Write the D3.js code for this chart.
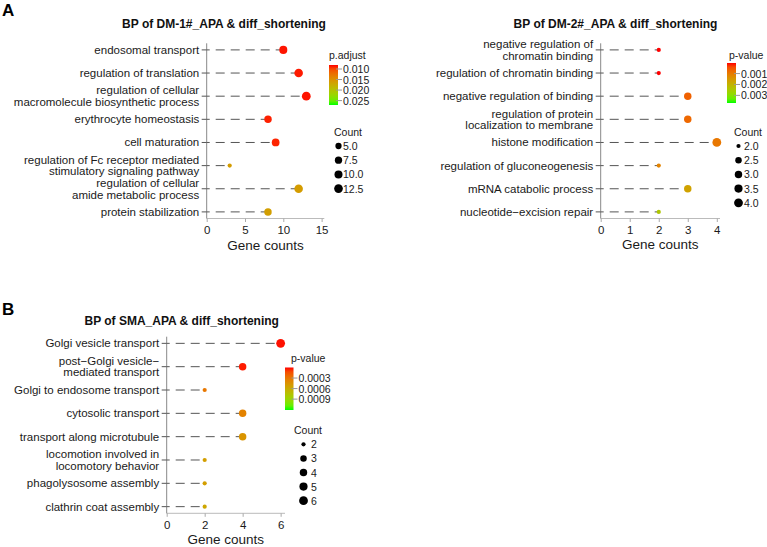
<!DOCTYPE html>
<html>
<head>
<meta charset="utf-8">
<script src="https://cdn.jsdelivr.net/npm/d3@7"></script>
<style>
  body { margin: 0; background: #fff; }
  svg text { font-family: 'Liberation Sans', Arial, Helvetica, sans-serif; fill: #1a1a1a; }
</style>
</head>
<body>
<div id="chart"></div>
<script>
// ---- DM-1# (p.adjust) ----
var dm1Terms = [
  "endosomal transport",
  "regulation of translation",
  "regulation of cellular\nmacromolecule biosynthetic process",
  "erythrocyte homeostasis",
  "cell maturation",
  "regulation of Fc receptor mediated\nstimulatory signaling pathway",
  "regulation of cellular\namide metabolic process",
  "protein stabilization"
];
var dm1Counts = [10, 12, 13, 8, 9, 3, 12, 8];
var dm1Padj = [0.0083, 0.0084, 0.0083, 0.0085, 0.0086, 0.0161, 0.0161, 0.0163];
var dm1XTicks = [0, 5, 10, 15];
var dm1ColorTicks = [0.010, 0.015, 0.020, 0.025];
var dm1SizeBreaks = [5.0, 7.5, 10.0, 12.5];

// ---- DM-2# (p-value) ----
var dm2Terms = [
  "negative regulation of\nchromatin binding",
  "regulation of chromatin binding",
  "negative regulation of binding",
  "regulation of protein\nlocalization to membrane",
  "histone modification",
  "regulation of gluconeogenesis",
  "mRNA catabolic process",
  "nucleotide\u2212excision repair"
];
var dm2Counts = [2, 2, 3, 3, 4, 2, 3, 2];
var dm2Pval = [0.00003, 0.00003, 0.00065, 0.00073, 0.00095, 0.00113, 0.00168, 0.00242];
var dm2XTicks = [0, 1, 2, 3, 4];
var dm2ColorTicks = [0.001, 0.002, 0.003];
var dm2SizeBreaks = [2.0, 2.5, 3.0, 3.5, 4.0];

// ---- SMA (p-value) ----
var smaTerms = [
  "Golgi vesicle transport",
  "post\u2212Golgi vesicle\u2212\nmediated transport",
  "Golgi to endosome transport",
  "cytosolic transport",
  "transport along microtubule",
  "locomotion involved in\nlocomotory behavior",
  "phagolysosome assembly",
  "clathrin coat assembly"
];
var smaCounts = [6, 4, 2, 4, 4, 2, 2, 2];
var smaPval = [0.00001, 0.00002, 0.00030, 0.00036, 0.00046, 0.00052, 0.00052, 0.00057];
var smaXTicks = [0, 2, 4, 6];
var smaColorTicks = [0.0003, 0.0006, 0.0009];
var smaSizeBreaks = [2, 3, 4, 5, 6];

var svg = d3.select("#chart").append("svg")
  .attr("width", 767)
  .attr("height", 547);

var defs = svg.append("defs");

// panel letters
svg.append("text").attr("x", 2).attr("y", 16).attr("font-size", "17px")
  .attr("font-weight", "bold").style("fill", "#000").text("A");
svg.append("text").attr("x", 2).attr("y", 315).attr("font-size", "17px")
  .attr("font-weight", "bold").style("fill", "#000").text("B");

function drawPanel(p) {
  var g = svg.append("g");
  var n = p.terms.length;

  var x = d3.scaleLinear().domain([0, p.xMax]).range([p.x0, p.x1]);
  var y = d3.scalePoint().domain(d3.range(n)).range([p.yTop, p.yBot]).padding(0.285);
  var color = d3.scaleLinear().domain(p.colorDomain)
    .range(["#ff0000", "#00ff00"]).interpolate(d3.interpolateLab).clamp(true);
  var cext = d3.extent(p.counts);
  var rad = function(v) {
    var t = Math.max(0, (v - cext[0]) / (cext[1] - cext[0]));
    return 2.1 + 2.3 * Math.sqrt(t);
  };

  // title
  g.append("text")
    .attr("x", p.titleX).attr("y", p.titleY)
    .attr("text-anchor", "middle")
    .attr("dominant-baseline", "central")
    .attr("font-size", "12px").attr("font-weight", "bold")
    .style("fill", "#111")
    .text(p.title);

  // x axis
  var xa = g.append("g").attr("transform", "translate(0," + p.yBot + ")")
    .call(d3.axisBottom(x).tickValues(p.xTicks).tickSize(3.5).tickPadding(4).tickFormat(d3.format("d")));
  xa.select(".domain").attr("stroke", "#bbb").attr("d", "M" + p.x0 + ",0H" + p.x1);
  xa.selectAll(".tick line").attr("stroke", "#aaa");
  xa.selectAll(".tick text").attr("font-size", "11.5px").style("fill", "#1a1a1a");

  g.append("text")
    .attr("x", (p.x0 + p.x1) / 2).attr("y", p.xTitleY)
    .attr("text-anchor", "middle").attr("dominant-baseline", "central")
    .attr("font-size", "13.5px")
    .text("Gene counts");

  // y axis line
  g.append("line")
    .attr("x1", p.x0).attr("x2", p.x0)
    .attr("y1", p.yTop).attr("y2", p.yBot)
    .attr("stroke", "#888");

  var rows = g.append("g").selectAll("g")
    .data(p.terms)
    .enter().append("g");

  // tick marks
  rows.append("line")
    .attr("x1", p.x0 - 5).attr("x2", p.x0)
    .attr("y1", function(d, i) { return y(i); })
    .attr("y2", function(d, i) { return y(i); })
    .attr("stroke", "#555");

  // labels (possibly two lines)
  rows.each(function(d, i) {
    var lines = d.split("\n");
    var t = d3.select(this).append("text")
      .attr("text-anchor", "end")
      .attr("font-size", "11.5px");
    lines.forEach(function(s, k) {
      t.append("tspan")
        .attr("x", p.x0 - 7.5)
        .attr("y", y(i) + (k - (lines.length - 1) / 2) * 11.6)
        .attr("dominant-baseline", "central")
        .text(s);
    });
  });

  // dashed segments
  rows.append("line")
    .attr("x1", p.x0)
    .attr("x2", function(d, i) { return x(p.counts[i]); })
    .attr("y1", function(d, i) { return y(i); })
    .attr("y2", function(d, i) { return y(i); })
    .attr("stroke", "#555")
    .attr("stroke-width", 1)
    .attr("stroke-dasharray", "9,6")
    .attr("stroke-dashoffset", 6);

  // dots
  rows.append("circle")
    .attr("cx", function(d, i) { return x(p.counts[i]); })
    .attr("cy", function(d, i) { return y(i); })
    .attr("r", function(d, i) { return rad(p.counts[i]); })
    .attr("fill", function(d, i) { return color(p.colorVals[i]); });

  // colour legend
  var lg = p.legend;
  g.append("text")
    .attr("x", lg.titleX).attr("y", lg.titleY)
    .attr("dominant-baseline", "central")
    .attr("font-size", "10.5px")
    .text(p.colorTitle);

  var gid = "grad" + p.id;
  var grad = defs.append("linearGradient").attr("id", gid)
    .attr("x1", 0).attr("y1", 0).attr("x2", 0).attr("y2", 1);
  d3.range(0, 1.001, 0.1).forEach(function(t) {
    grad.append("stop")
      .attr("offset", t)
      .attr("stop-color", color(p.colorDomain[0] + t * (p.colorDomain[1] - p.colorDomain[0])));
  });
  g.append("rect")
    .attr("x", lg.barX).attr("y", lg.barTop)
    .attr("width", lg.barW).attr("height", lg.barBot - lg.barTop)
    .attr("fill", "url(#" + gid + ")");

  var cy = d3.scaleLinear().domain(p.colorDomain).range([lg.barTop, lg.barBot]);
  var ct = g.append("g").selectAll("g")
    .data(p.colorTicks)
    .enter().append("g");
  ct.append("line")
    .attr("x1", lg.barX + lg.barW - 2).attr("x2", lg.barX + lg.barW + 4)
    .attr("y1", function(d) { return cy(d); })
    .attr("y2", function(d) { return cy(d); })
    .attr("stroke", "#999");
  ct.append("text")
    .attr("x", lg.barX + lg.barW + 5)
    .attr("y", function(d) { return cy(d); })
    .attr("dominant-baseline", "central")
    .attr("font-size", "10.5px")
    .text(function(d) { return d3.format(p.colorFmt)(d); });

  // size legend
  g.append("text")
    .attr("x", lg.countX).attr("y", lg.countY)
    .attr("dominant-baseline", "central")
    .attr("font-size", "10.5px")
    .text("Count");

  var sk = g.append("g").selectAll("g")
    .data(p.sizeBreaks)
    .enter().append("g");
  sk.append("circle")
    .attr("cx", lg.dotX)
    .attr("cy", function(d, i) { return lg.itemY0 + i * lg.itemStep; })
    .attr("r", function(d) { return rad(d); })
    .attr("fill", "#000");
  sk.append("text")
    .attr("x", lg.labelX)
    .attr("y", function(d, i) { return lg.itemY0 + i * lg.itemStep; })
    .attr("dominant-baseline", "central")
    .attr("font-size", "10.5px")
    .text(function(d) { return d3.format(p.sizeFmt)(d); });
}

drawPanel({
  id: "dm1", title: "BP of DM-1#_APA & diff_shortening", titleX: 224, titleY: 24,
  terms: dm1Terms, counts: dm1Counts, colorVals: dm1Padj,
  xTicks: dm1XTicks, colorTicks: dm1ColorTicks, sizeBreaks: dm1SizeBreaks,
  colorTitle: "p.adjust", colorDomain: [0.0081, 0.0271], colorFmt: ".3f", sizeFmt: ".1f",
  xMax: 15.35, x0: 206.7, x1: 324.3, yTop: 43.3, yBot: 218.5, xTitleY: 245.5,
  legend: { titleX: 329, titleY: 55, barX: 329, barW: 9, barTop: 65, barBot: 105,
            countX: 334, countY: 131.5, dotX: 338.5, labelX: 343, itemY0: 146, itemStep: 14.2 }
});

drawPanel({
  id: "dm2", title: "BP of DM-2#_APA & diff_shortening", titleX: 615.5, titleY: 24,
  terms: dm2Terms, counts: dm2Counts, colorVals: dm2Pval,
  xTicks: dm2XTicks, colorTicks: dm2ColorTicks, sizeBreaks: dm2SizeBreaks,
  colorTitle: "p-value", colorDomain: [0.00003, 0.0037], colorFmt: ".3f", sizeFmt: ".1f",
  xMax: 4.11, x0: 600.7, x1: 720, yTop: 43.3, yBot: 218.5, xTitleY: 244,
  legend: { titleX: 729, titleY: 55, barX: 727, barW: 9, barTop: 63, barBot: 103,
            countX: 734, countY: 131.5, dotX: 738.5, labelX: 744, itemY0: 146, itemStep: 14.2 }
});

drawPanel({
  id: "sma", title: "BP of SMA_APA & diff_shortening", titleX: 181.7, titleY: 321,
  terms: smaTerms, counts: smaCounts, colorVals: smaPval,
  xTicks: smaXTicks, colorTicks: smaColorTicks, sizeBreaks: smaSizeBreaks,
  colorTitle: "p-value", colorDomain: [0, 0.00121], colorFmt: ".4f", sizeFmt: "d",
  xMax: 6.23, x0: 166.7, x1: 285, yTop: 336.7, yBot: 513.3, xTitleY: 539,
  legend: { titleX: 291, titleY: 357.7, barX: 285, barW: 8.5, barTop: 367.5, barBot: 410,
            countX: 294, countY: 429.5, dotX: 303.5, labelX: 311, itemY0: 444.3, itemStep: 14.1 }
});
</script>
</body>
</html>
